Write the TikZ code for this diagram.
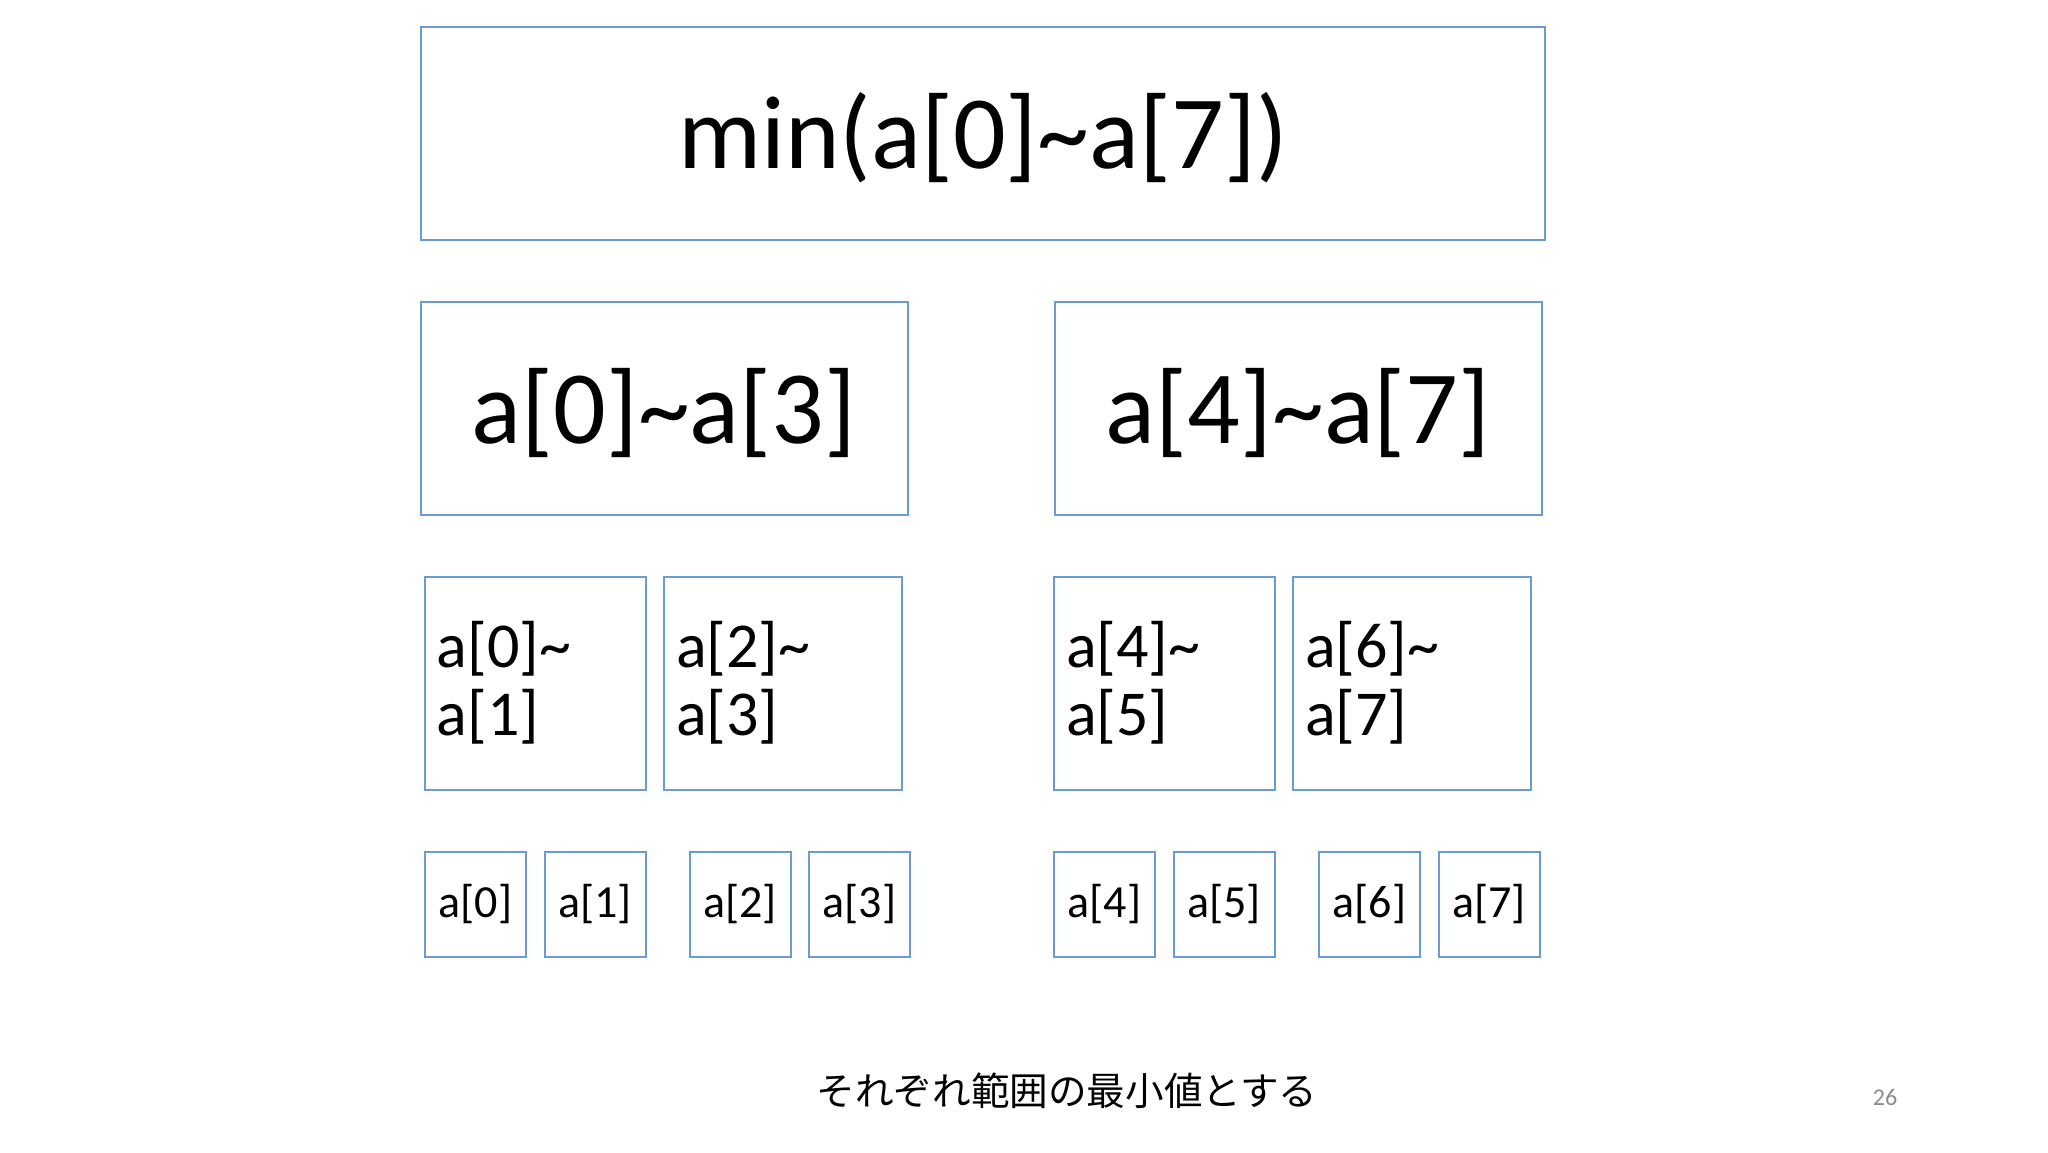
\documentclass[tikz,border=0pt]{standalone}
\usepackage{fontspec}
\setmainfont{Carlito}
\newfontfamily\jpfont{Noto Sans CJK JP}
\usepackage{tikz}
\usetikzlibrary{positioning}
\usepackage{xcolor}
\definecolor{boxblue}{HTML}{6A9BD6}
\definecolor{pagegray}{HTML}{8A8A8A}
\newcommand{\tld}{\textasciitilde}
\newcommand{\lowr}[1]{\raisebox{-2.5pt}[\height][\depth]{#1}}
\tikzset{
  cell/.style={draw=boxblue,fill=white,line width=1pt,inner sep=0pt,outer sep=0pt},
  rangebox/.style={cell,minimum height=106.5pt,font=\fontsize{52}{56}\selectfont},
  pairbox/.style={cell,minimum height=106.5pt,align=left,inner xsep=6pt,
    font=\fontsize{32}{34}\selectfont},
  leaf/.style={cell,minimum width=50.5pt,minimum height=52.5pt,
    font=\fontsize{23}{25}\selectfont},
  caption/.style={font=\jpfont\fontsize{19.3}{23}\selectfont,inner sep=0pt},
  pagenum/.style={font=\fontsize{12}{14}\selectfont,text=pagegray,inner sep=0pt}
}
\begin{document}
\begin{tikzpicture}[x=0.5pt,y=-0.5pt]
    \fill[white] (0,0) rectangle (2048,1152);
    \useasboundingbox (0,0) rectangle (2048,1152);
    % whole range
    \node[rangebox,minimum width=562pt] (top) at (983,133) {\lowr{min(a[0]\tld a[7])}};
    % halves
    \node[rangebox,minimum width=243.5pt] (lh) at (664,408) {\lowr{a[0]\tld a[3]}};
    \node[rangebox,minimum width=243.5pt] (rh) at (1298,408) {\lowr{a[4]\tld a[7]}};
    % pairs
    \node[pairbox,text width=98.5pt] (p01) at (535.3,683) {a[0]\tld\\a[1]};
    \node[pairbox,text width=107pt] (p23) at (783,683) {a[2]\tld\\a[3]};
    \node[pairbox,text width=98.5pt] (p45) at (1164.6,683) {a[4]\tld\\a[5]};
    \node[pairbox,text width=107pt] (p67) at (1412,683) {a[6]\tld\\a[7]};
    % single elements
    \foreach \i/\x in {0/475.5,1/595,2/740,3/859.5,4/1104.5,5/1224,6/1369.5,7/1489}{
      \node[leaf] (a\i) at (\x,904) {a[\i]};
    }
    \node[caption] (cap) at (1067,1091) {それぞれ範囲の最小値とする};
    \node[pagenum] (pg) at (1885,1097) {26};
  \end{tikzpicture}
\end{document}
